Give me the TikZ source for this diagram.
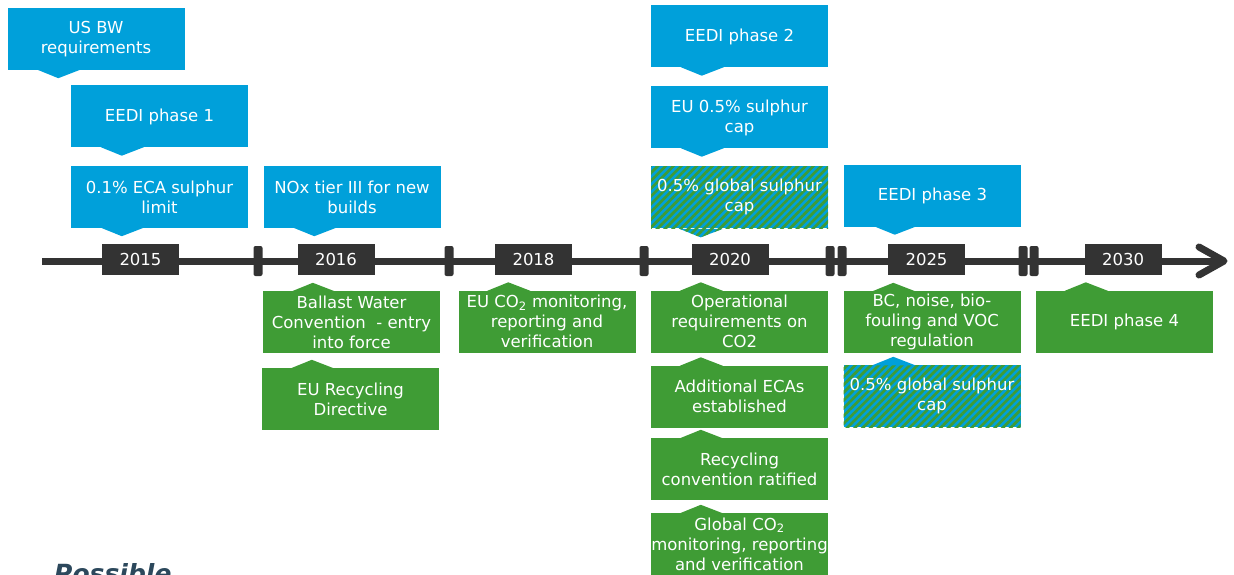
\documentclass[tikz,border=0pt]{standalone}
\usepackage{fontspec}
\setmainfont{DejaVu Sans}
\usetikzlibrary{calc,patterns.meta}
\definecolor{tlblue}{RGB}{0,160,218}
\definecolor{tlgreen}{RGB}{63,156,53}
\definecolor{tldark}{RGB}{51,51,51}
\definecolor{tlslate}{RGB}{44,72,92}
\tikzset{
  box/.style={rectangle, minimum width=177pt, minimum height=62pt, inner sep=0pt,
    align=center, text=white,
    font=\fontsize{16.5}{20}\selectfont},
  bluebox/.style={box, fill=tlblue},
  greenbox/.style={box, fill=tlgreen},
  hatch/.style={preaction={fill=tlblue},
    pattern={Lines[angle=45,distance=5.5pt,line width=2.7pt]}, pattern color=tlgreen},
  hatchbox/.style={box, hatch},
  yearbox/.style={rectangle, fill=tldark, minimum width=77pt, minimum height=31pt,
    inner sep=0pt, text=white, font=\fontsize{16.5}{20}\selectfont},
  tick/.style={rectangle, fill=tldark, rounded corners=2pt, minimum width=9pt,
    minimum height=30pt, inner sep=0pt},
  axis/.style={draw=tldark, line width=7pt},
}
\begin{document}
\begin{tikzpicture}[x=1pt,y=-1pt]
\useasboundingbox (0,0) rectangle (1234,575);
\clip (0,0) rectangle (1234,575);

% timeline axis and arrow head
\coordinate (axstart) at (42,261);
\coordinate (axtip) at (1224,261);
\coordinate (armup) at (1199,247);
\coordinate (armdown) at (1199,275);
\draw[axis] (axstart) -- (axtip);
\draw[axis, line cap=round, line join=round] (armup) -- (axtip) -- (armdown);

% separators between the years
\node[tick] (s1) at (258,261) {};
\node[tick] (s2) at (449,261) {};
\node[tick] (s3) at (644,261) {};
\node[tick] (s4) at (830,261) {};
\node[tick] (s5) at (842,261) {};
\node[tick] (s6) at (1023,261) {};
\node[tick] (s7) at (1034,261) {};

% years
\node[yearbox] (y2015) at (140.5,259.5) {2015};
\node[yearbox] (y2016) at (336,259.5) {2016};
\node[yearbox] (y2018) at (533.5,259.5) {2018};
\node[yearbox] (y2020) at (730,259.5) {2020};
\node[yearbox] (y2025) at (926.5,259.5) {2025};
\node[yearbox] (y2030) at (1123,259.5) {2030};

% events above the axis
\node[bluebox] (usbw)  at (96,39)      {US BW\\requirements};
\node[bluebox] (eedi1) at (159.5,116.5) {EEDI phase 1};
\node[bluebox] (eca)   at (159.5,197)   {0.1\% ECA sulphur\\limit};
\node[bluebox] (nox)   at (352,197)     {NOx tier III for new\\builds};
\node[bluebox] (eedi2) at (739.5,36.5)  {EEDI phase 2};
\node[bluebox] (eu05)  at (739.5,117.5) {EU 0.5\% sulphur\\cap};
\node[hatchbox] (glob1) at (739.5,197)  {0.5\% global sulphur\\cap};
\node[bluebox] (eedi3) at (932.5,195.5) {EEDI phase 3};

% events below the axis
\node[greenbox] (ballast) at (351.5,322) {Ballast Water\\Convention\ \ - entry\\into force};
\node[greenbox] (eurec)   at (350.5,399) {EU Recycling\\Directive};
\node[greenbox] (euco2)   at (547,321.5) {EU CO\textsubscript{2} monitoring,\\reporting and\\verification};
\node[greenbox] (oper)    at (739.5,321.5) {Operational\\requirements on\\CO2};
\node[greenbox] (addeca)  at (739.5,396.5) {Additional ECAs\\established};
\node[greenbox] (recyc)   at (739.5,469)   {Recycling\\convention ratified};
\node[greenbox] (globco2) at (739.5,544)   {Global CO\textsubscript{2}\\monitoring, reporting\\and verification};
\node[greenbox] (bc)      at (932,322)     {BC, noise, bio-\\fouling and VOC\\regulation};
\node[hatchbox] (glob2)   at (932,396)     {0.5\% global sulphur\\cap};
\node[greenbox] (eedi4)   at (1124.5,321.5) {EEDI phase 4};

% downward pointers
\foreach \n in {usbw,eedi1,eca,nox,eedi2,eu05,eedi3}
  \fill[tlblue] ($(\n.south west)+(30,-0.5)$) -- ($(\n.south west)+(51,8)$)
    -- ($(\n.south west)+(73,-0.5)$) -- cycle;
\path[hatch] ($(glob1.south west)+(30,-0.5)$) -- ($(glob1.south west)+(51,8)$)
    -- ($(glob1.south west)+(73,-0.5)$) -- cycle;

% upward pointers
\foreach \n in {ballast,eurec,euco2,oper,addeca,recyc,globco2,bc,eedi4}
  \fill[tlgreen] ($(\n.north west)+(29,0.5)$) -- ($(\n.north west)+(50,-8)$)
    -- ($(\n.north west)+(72,0.5)$) -- cycle;
\fill[tlblue] ($(glob2.north west)+(29,0.5)$) -- ($(glob2.north west)+(50,-8)$)
    -- ($(glob2.north west)+(72,0.5)$) -- cycle;

% heading running off the lower edge
\node[anchor=base west, inner sep=0pt, text=tlslate,
  font=\fontsize{25}{30}\bfseries\itshape\selectfont] (possible) at (54,582) {Possible};
\end{tikzpicture}
\end{document}
